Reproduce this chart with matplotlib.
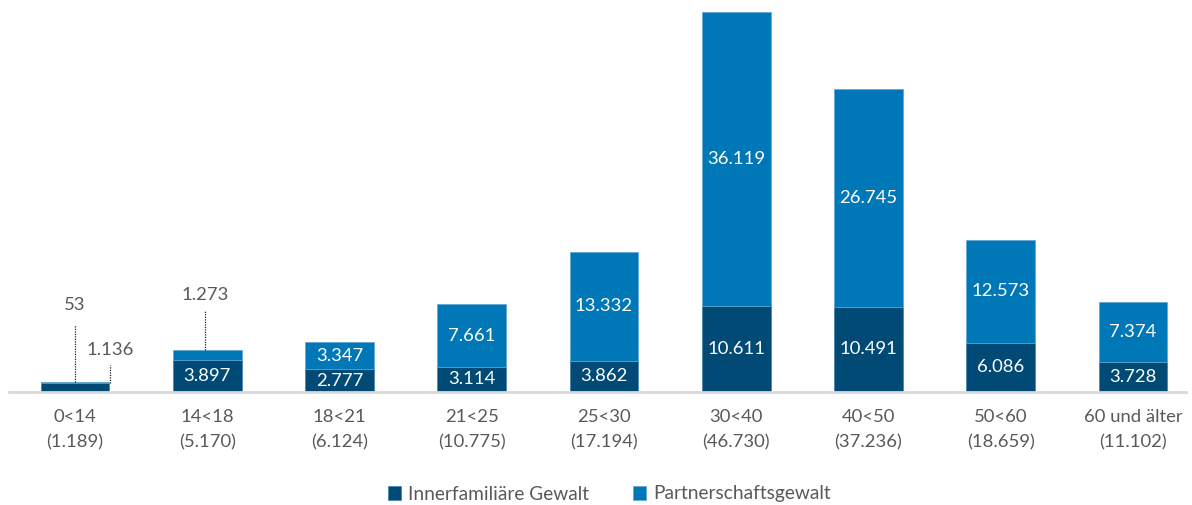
import matplotlib
matplotlib.use("Agg")
import matplotlib.pyplot as plt

categories = ["0<14", "14<18", "18<21", "21<25", "25<30", "30<40", "40<50", "50<60", "60 und älter"]
totals = ["1.189", "5.170", "6.124", "10.775", "17.194", "46.730", "37.236", "18.659", "11.102"]
innerfam = [1136, 3897, 2777, 3114, 3862, 10611, 10491, 6086, 3728]
partner = [53, 1273, 3347, 7661, 13332, 36119, 26745, 12573, 7374]
series_names = ["Innerfamiliäre Gewalt", "Partnerschaftsgewalt"]

def fmt(v):
    return f"{v:,}".replace(",", ".")

plt.rcParams['font.family'] = ['Lato', 'DejaVu Sans']
DARK = "#004a75"
LIGHT = "#0077b6"
GRAY = "#595959"

fig = plt.figure(figsize=(11.92, 5.05), dpi=100)
ax = fig.add_axes([0, 113/505, 1, 392/505])
x = list(range(len(categories)))
w = 0.52
b1 = ax.bar(x, innerfam, width=w, color=DARK, edgecolor="#3f7fae", linewidth=0.5, label=series_names[0], zorder=2)
b2 = ax.bar(x, partner, width=w, bottom=innerfam, color=LIGHT, edgecolor="#5fa3d3", linewidth=0.5, label=series_names[1], zorder=2)

ymax = (innerfam[5] + partner[5]) * 392 / 380
ax.set_ylim(0, ymax)
ax.set_xlim(-75/132.25, (1192-75)/132.25)

for sp in ["top", "right", "left"]:
    ax.spines[sp].set_visible(False)
ax.spines["bottom"].set_color("#d9d9d9")
ax.spines["bottom"].set_linewidth(2)
ax.spines["bottom"].set_bounds(-0.5, 8.4)
ax.set_yticks([])
ax.set_xticks(x)
ax.set_xticklabels([f"{c}\n({t})" for c, t in zip(categories, totals)], fontsize=13.3, color=GRAY, linespacing=1.7)
ax.tick_params(axis="x", length=0, pad=12)

# labels inside
for i in x:
    if i >= 1:
        ax.text(i, innerfam[i] / 2, fmt(innerfam[i]), ha="center", va="center", color="white", fontsize=13.3)
    if i >= 2:
        ax.text(i, innerfam[i] + partner[i] / 2, fmt(partner[i]), ha="center", va="center", color="white", fontsize=13.3)

# outside labels with dotted leader lines
upp = ymax / 392  # value per pixel
def leader(xi, y0, y1, label, ty):
    ax.plot([xi, xi], [y0, y1], ls=(0, (1, 1)), color="#202020", lw=0.9, zorder=3)
    ax.text(xi, ty, label, ha="center", va="center", color=GRAY, fontsize=13.3)

top0 = innerfam[0] + partner[0]
leader(0, top0, 67 * upp, fmt(partner[0]), 87 * upp)
leader(0 + 35/132.25, innerfam[0], 27 * upp, fmt(innerfam[0]), 42 * upp)
top1 = innerfam[1] + partner[1]
leader(1 - 2/132.25, top1, 81 * upp, fmt(partner[1]), 97 * upp)

leg = fig.legend(handles=[b1, b2], labels=series_names, loc="center", bbox_to_anchor=(0.511, 11/505),
                 ncol=2, frameon=False, fontsize=13.8, handlelength=0.7, handleheight=0.7,
                 handletextpad=0.35, columnspacing=2.3)
for t in leg.get_texts():
    t.set_color(GRAY)

fig.savefig("out.png", dpi=100)
